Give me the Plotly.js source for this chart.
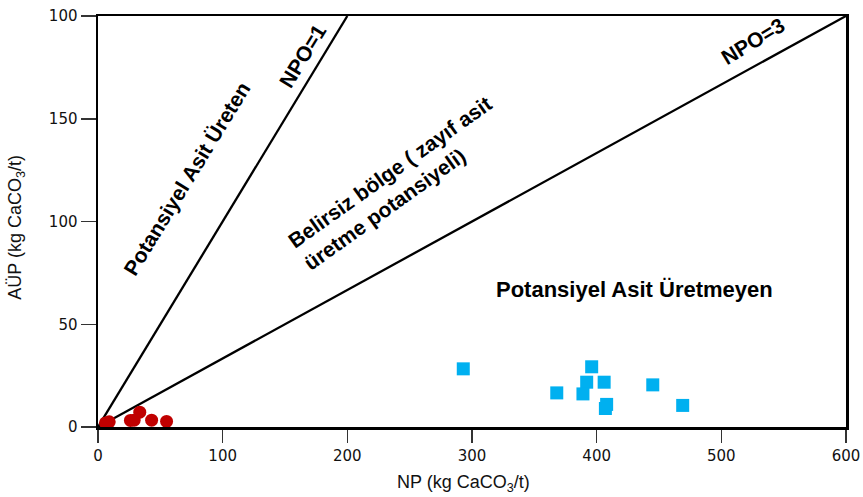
<!DOCTYPE html>
<html>
<head>
<meta charset="utf-8">
<script src="https://cdn.plot.ly/plotly-3.0.1.min.js"></script>
<style>html,body{margin:0;padding:0;background:#fff;}#chart{width:863px;height:497px;}</style>
</head>
<body>
<div id="chart"></div>
<script>
// Data
const redNP = [6, 9, 26, 29, 33.5, 43, 55];
const redAUP = [2, 2.5, 3.2, 3.3, 7.2, 3.3, 2.7];
const blueNP = [293, 396, 392, 406, 445, 368, 389, 408, 407, 469];
const blueAUP = [28.3, 29.3, 21.8, 21.8, 20.5, 16.6, 16.1, 11, 9, 10.5];
const npo1X = [0, 200];
const npo1Y = [0, 200];
const npo3X = [0, 600];
const npo3Y = [0, 200];
const xTickVals = [0, 100, 200, 300, 400, 500, 600];
const xTickText = ['0', '100', '200', '300', '400', '500', '600'];
const yTickVals = [0, 50, 100, 150, 200];
const yTickText = ['0', '50', '100', '150', '100'];

const traces = [
  {x: npo1X, y: npo1Y, mode: 'lines', line: {color: '#000', width: 2.3}, hoverinfo: 'skip'},
  {x: npo3X, y: npo3Y, mode: 'lines', line: {color: '#000', width: 2.3}, hoverinfo: 'skip'},
  {x: redNP, y: redAUP, mode: 'markers', marker: {symbol: 'circle', size: 13, color: '#c00000'}},
  {x: blueNP, y: blueAUP, mode: 'markers', marker: {symbol: 'square', size: 13, color: '#00b0f0'}}
];

const bold = {family: 'Liberation Sans, Arial, sans-serif', size: 21, color: '#000', weight: 'bold'};
const titleFont = {family: 'Liberation Sans, Arial, sans-serif', size: 18, color: '#111'};

const layout = {
  width: 863, height: 497,
  margin: {l: 98, r: 17, t: 16, b: 69.5},
  showlegend: false,
  paper_bgcolor: '#fff', plot_bgcolor: '#fff',
  xaxis: {
    range: [0, 600], tickvals: xTickVals, ticktext: xTickText,
    showgrid: false, zeroline: false,
    showline: true, mirror: true, linecolor: '#000', linewidth: 2.5,
    ticks: 'outside', ticklen: 13, tickwidth: 1.5, tickcolor: '#333',
    tickfont: {family: 'DejaVu Sans, sans-serif', size: 15, color: '#111'}
  },
  yaxis: {
    range: [0, 200], tickvals: yTickVals, ticktext: yTickText,
    showgrid: false, zeroline: false,
    showline: true, mirror: true, linecolor: '#000', linewidth: 2.5,
    ticks: 'outside', ticklen: 15, tickwidth: 1.5, tickcolor: '#333',
    tickfont: {family: 'DejaVu Sans, sans-serif', size: 15, color: '#111'}
  },
  annotations: [
    {xref: 'paper', yref: 'paper', x: 0.4886, y: 0, yanchor: 'middle', yshift: -56, text: 'NP (kg CaCO<sub>3</sub>/t)', showarrow: false, font: titleFont},
    {xref: 'paper', yref: 'paper', x: 0, y: 0.4848, xanchor: 'center', xshift: -81, text: 'AÜP (kg CaCO<sub>3</sub>/t)', textangle: -90, showarrow: false, font: titleFont},
    {x: 71.4, y: 120.8, xref: 'x', yref: 'y', text: 'Potansiyel Asit Üreten', showarrow: false, textangle: -58.5, font: bold},
    {x: 164.4, y: 180.6, xref: 'x', yref: 'y', text: 'NPO=1', showarrow: false, textangle: -58.5, font: bold},
    {x: 240.5, y: 118.5, xref: 'x', yref: 'y', text: 'Belirsiz bölge ( zayıf asit<br>üretme potansiyeli)', align: 'left', showarrow: false, textangle: -35.5, font: bold},
    {x: 524.6, y: 187.8, xref: 'x', yref: 'y', text: 'NPO=3', showarrow: false, textangle: -31, font: bold},
    {x: 430.7, y: 66.8, xref: 'x', yref: 'y', text: 'Potansiyel Asit Üretmeyen', showarrow: false, font: {family: 'Liberation Sans, Arial, sans-serif', size: 22, color: '#000', weight: 'bold'}}
  ]
};

Plotly.newPlot('chart', traces, layout, {staticPlot: true, displayModeBar: false});
</script>
</body>
</html>
